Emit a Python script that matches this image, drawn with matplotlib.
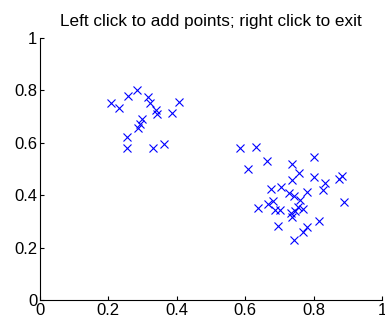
import matplotlib
matplotlib.use("Agg")
import matplotlib.pyplot as plt

# clicked points
x1 = [0.207, 0.230, 0.257, 0.285, 0.316, 0.323, 0.339, 0.343, 0.406, 0.386,
      0.297, 0.292, 0.287, 0.254, 0.254, 0.330, 0.363]
y1 = [0.749, 0.731, 0.776, 0.799, 0.773, 0.750, 0.723, 0.707, 0.754, 0.714,
      0.688, 0.670, 0.654, 0.621, 0.578, 0.579, 0.595]
x2 = [0.586, 0.631, 0.663, 0.609, 0.736, 0.800, 0.757, 0.737, 0.802, 0.833,
      0.827, 0.884, 0.874, 0.890, 0.676, 0.706, 0.728, 0.742, 0.782, 0.760,
      0.682, 0.667, 0.638, 0.686, 0.702, 0.754, 0.768, 0.746, 0.737, 0.734,
      0.815, 0.696, 0.780, 0.770, 0.742]
y2 = [0.578, 0.583, 0.528, 0.498, 0.518, 0.547, 0.486, 0.458, 0.470, 0.448,
      0.420, 0.474, 0.460, 0.372, 0.423, 0.430, 0.409, 0.396, 0.413, 0.382,
      0.378, 0.366, 0.350, 0.343, 0.343, 0.353, 0.347, 0.338, 0.315, 0.330,
      0.302, 0.283, 0.278, 0.260, 0.229]

xticks = [0, 0.2, 0.4, 0.6, 0.8, 1]
xticklabels = ["0", "0.2", "0.4", "0.6", "0.8", "1"]

plt.rcParams['font.family'] = ['Liberation Sans', 'DejaVu Sans']

fig = plt.figure(figsize=(3.85, 3.21), dpi=100)
ax = fig.add_axes([0.104, 0.065, 0.888, 0.818])
ax.plot(x1 + x2, y1 + y2, 'x', color='#0000ff', markersize=6, markeredgewidth=0.8)
ax.set_xlim(0, 1)
ax.set_ylim(0, 1)
ax.set_xticks(xticks)
ax.set_xticklabels(xticklabels)
ax.set_yticks(xticks)
ax.set_yticklabels(xticklabels)
ax.spines['top'].set_visible(False)
ax.spines['right'].set_visible(False)
ax.tick_params(direction='in', length=3, labelsize=12, pad=2)
ax.set_title("Left click to add points; right click to exit", fontsize=12.3, pad=8)

fig.savefig("out.png", dpi=100)
